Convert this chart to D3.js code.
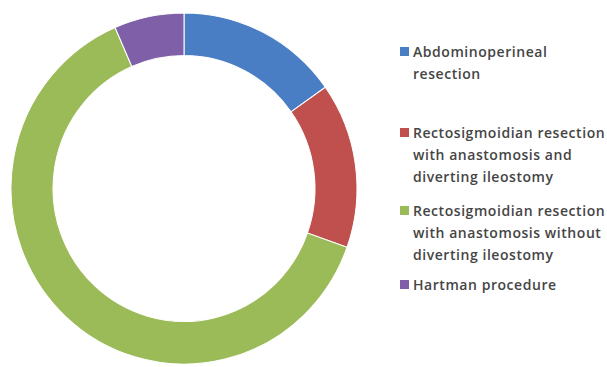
<!DOCTYPE html>
<html>
<head>
<meta charset="utf-8">
<script src="https://cdn.jsdelivr.net/npm/d3@7/dist/d3.min.js"></script>
<style>
  html, body { margin: 0; padding: 0; background: #fff; }
  svg { display: block; }
</style>
</head>
<body>
<svg id="chart" width="607" height="367"></svg>
<script>
// Surgical procedures performed (share of patients)
const categories = [
  ["Abdominoperineal", "resection"],
  ["Rectosigmoidian resection", "with anastomosis and", "diverting ileostomy"],
  ["Rectosigmoidian resection", "with anastomosis without", "diverting ileostomy"],
  ["Hartman procedure"]
];
const values = [7, 7, 29, 3];
const colors = ["#4a7ec4", "#c0504d", "#9bbb59", "#7f5fa8"];

const svg = d3.select("#chart");
const cx = 184, cy = 188.5, outerR = 173, innerR = 131;

const pie = d3.pie().sort(null).value(d => d)(values);
const arc = d3.arc().innerRadius(innerR).outerRadius(outerR);

svg.append("g")
  .attr("transform", `translate(${cx},${cy}) scale(1,1.015)`)
  .selectAll("path")
  .data(pie)
  .join("path")
  .attr("d", arc)
  .attr("fill", (d, i) => colors[i])
  .attr("stroke", "#fff")
  .attr("stroke-width", 1);

// Legend
const legendTops = [52, 133, 211, 285];
const lineH = 22;
const legend = svg.append("g")
  .attr("font-family", "'Open Sans', sans-serif")
  .attr("font-size", 14)
  .attr("font-weight", 600)
  .attr("letter-spacing", 0.55)
  .attr("fill", "#454545");

categories.forEach((lines, i) => {
  const g = legend.append("g").attr("transform", `translate(0,${legendTops[i]})`);
  g.append("rect")
    .attr("x", 400).attr("y", -5).attr("width", 9).attr("height", 9)
    .attr("fill", colors[i]);
  lines.forEach((t, j) => {
    g.append("text")
      .attr("x", 413).attr("y", j * lineH)
      .attr("dy", "0.35em")
      .text(t);
  });
});
</script>
</body>
</html>
